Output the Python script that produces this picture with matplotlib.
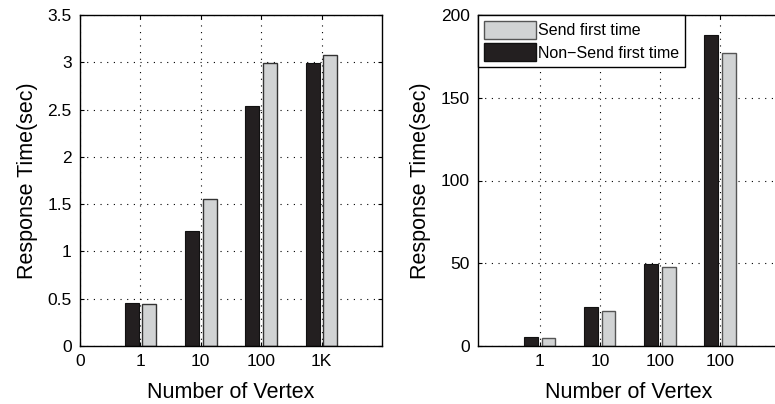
import matplotlib.pyplot as plt
import numpy as np
from matplotlib.patches import Patch

plt.rcParams['font.family'] = ['Liberation Sans', 'DejaVu Sans']

# left panel
left_labels = ['0', '1', '10', '100', '1K']
left_nonsend = [0.45, 1.22, 2.54, 2.99]
left_send = [0.44, 1.55, 2.99, 3.08]

# right panel
right_labels = ['1', '10', '100', '100']
right_nonsend = [5.2, 23.3, 49.5, 188]
right_send = [5.0, 21.0, 48.0, 177]

black = '#231f20'
gray = '#d1d3d4'
bw = 0.23
off = 0.145

fig = plt.figure(figsize=(7.75, 4.04), dpi=100)
ax1 = fig.add_axes([80 / 775, 58 / 404, 302 / 775, 331 / 404])
ax2 = fig.add_axes([478 / 775, 58 / 404, 302 / 775, 331 / 404])


def style(ax):
    ax.grid(True, linestyle=(0, (1, 5)), color='black', linewidth=0.8)
    ax.set_axisbelow(True)
    ax.tick_params(direction='in', length=3, labelsize=12.5, top=True, right=True,
                   width=0.8, pad=6)
    for s in ax.spines.values():
        s.set_linewidth(1.0)
    ax.set_xlabel('Number of Vertex', fontsize=15.5, labelpad=9)
    ax.set_ylabel('Response Time(sec)', fontsize=15.5, labelpad=7)


x = np.arange(1, 5)
ax1.bar(x - off, left_nonsend, bw, color=black, edgecolor='#111111', linewidth=0.8)
ax1.bar(x + off, left_send, bw, color=gray, edgecolor='#333333', linewidth=1.0)
ax1.set_xlim(0, 5)
ax1.set_ylim(0, 3.5)
ax1.set_xticks(range(5))
ax1.set_xticklabels(left_labels)
ax1.set_yticks(np.arange(0, 3.51, 0.5))
ax1.set_yticklabels(['0', '0.5', '1', '1.5', '2', '2.5', '3', '3.5'])
style(ax1)

ax2.bar(x - off, right_nonsend, bw, color=black, edgecolor='#111111', linewidth=0.8)
ax2.bar(x + off, right_send, bw, color=gray, edgecolor='#555555', linewidth=1.0)
ax2.set_xlim(-0.03, 5)
ax2.set_ylim(0, 200)
ax2.set_xticks(x)
ax2.set_xticklabels(right_labels)
ax2.set_yticks(range(0, 201, 50))
style(ax2)

handles = [Patch(facecolor=gray, edgecolor='#555555'),
           Patch(facecolor=black, edgecolor='#111111')]
leg = ax2.legend(handles, ['Send first time', 'Non\u2212Send first time'],
                 loc='upper left', bbox_to_anchor=(0.0, 1.0), fontsize=11.5,
                 handlelength=3.3, handleheight=1.35, handletextpad=0.1,
                 borderaxespad=0, borderpad=0.35, labelspacing=0.3,
                 fancybox=False, framealpha=1, edgecolor='black')
leg.get_frame().set_linewidth(1.0)

plt.savefig('out.png')
